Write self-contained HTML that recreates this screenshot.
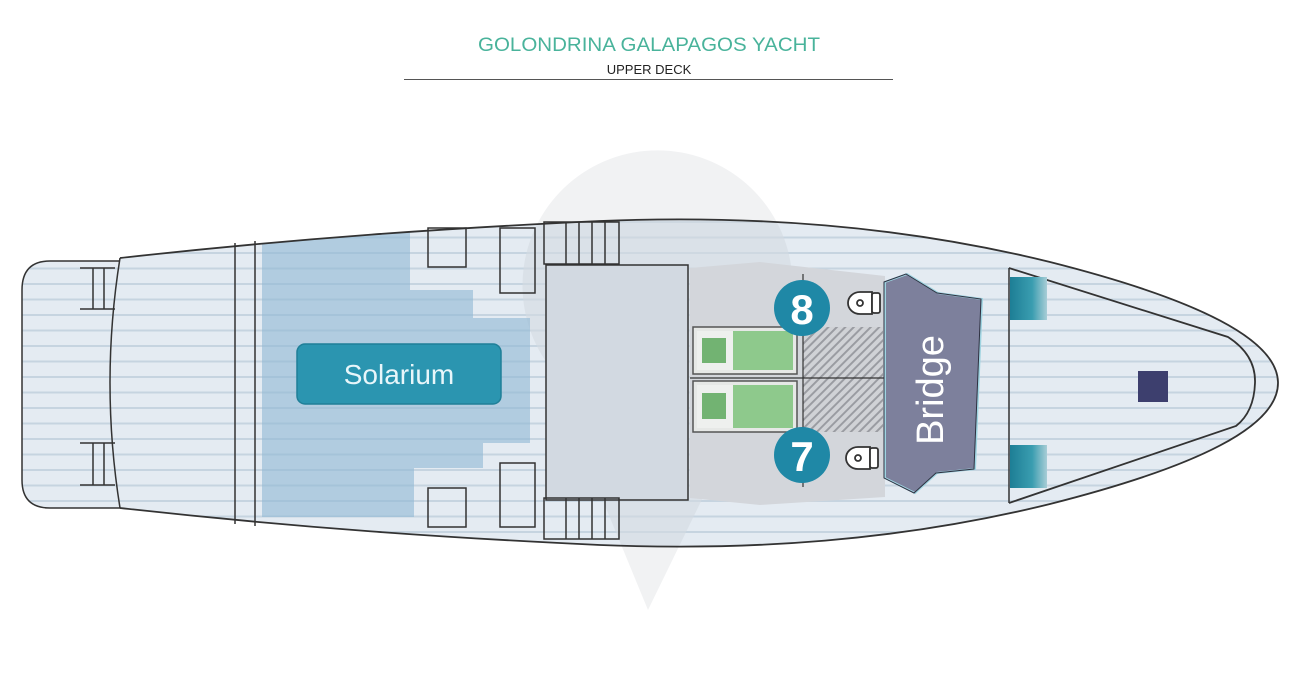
<!DOCTYPE html>
<html><head><meta charset="utf-8"><style>
html,body{margin:0;padding:0;background:#fff;}
svg{display:block;font-family:"Liberation Sans",sans-serif;}
</style></head><body>
<svg width="1300" height="684" viewBox="0 0 1300 684" xmlns="http://www.w3.org/2000/svg">
<defs>
<pattern id="stripes" width="10" height="15.5" patternUnits="userSpaceOnUse" y="4">
<rect width="10" height="15.5" fill="#e4ebf2"/>
<rect y="0" width="10" height="2" fill="#c6d4e0"/>
</pattern>
<pattern id="hatch" width="6" height="6" patternUnits="userSpaceOnUse" patternTransform="rotate(45)">
<rect width="6" height="6" fill="#d0d2d6"/>
<rect width="2" height="6" fill="#9a9ca2"/>
</pattern>
<linearGradient id="teal" x1="0" x2="1">
<stop offset="0" stop-color="#1d7e95"/><stop offset="0.6" stop-color="#3a9db0"/><stop offset="1" stop-color="#a8cdd6"/>
</linearGradient>
<clipPath id="hullclip"><path d="M120,258 C300,238 450,228 600,221 C750,215 900,225 1050,262 C1200,300 1278,340 1278,383 C1278,426 1200,466 1050,504 C900,541 750,551 600,545 C450,538 300,528 120,508 Z"/></clipPath>
</defs>
<text x="649" y="51" text-anchor="middle" font-size="19" fill="#49b39b" textLength="342" lengthAdjust="spacingAndGlyphs">GOLONDRINA GALAPAGOS YACHT</text>
<text x="649" y="74" text-anchor="middle" font-size="13" fill="#222">UPPER DECK</text>
<line x1="404" y1="79.5" x2="893" y2="79.5" stroke="#555" stroke-width="1"/>

<!-- watermark outside -->
<path d="M648,610 L545,360 A135,135 0 1 1 770,360 Z" fill="#f1f2f3"/>

<!-- stern platform -->
<path d="M122,261 L50,261 Q22,261 22,290 L22,480 Q22,508 50,508 L122,508 Z" fill="url(#stripes)" stroke="#333" stroke-width="1.5"/>
<!-- hull -->
<path d="M120,258 C300,238 450,228 600,221 C750,215 900,225 1050,262 C1200,300 1278,340 1278,383 C1278,426 1200,466 1050,504 C900,541 750,551 600,545 C450,538 300,528 120,508 Z" fill="url(#stripes)"/>
<g clip-path="url(#hullclip)">
<path d="M648,610 L545,360 A135,135 0 1 1 770,360 Z" fill="#d4dae1" opacity="0.6"/>
<path d="M262,232 L410,232 L410,290 L473,290 L473,318 L530,318 L530,443 L483,443 L483,468 L414,468 L414,517 L262,517 Z" fill="#8fb7d3" opacity="0.6"/>
<path d="M690,268 L760,262 L885,276 L885,497 L760,505 L690,498 Z" fill="#d3d6db"/>
<rect x="546" y="265" width="142" height="235" fill="#d2d9e1" stroke="#333" stroke-width="1.5"/>
</g>
<path d="M120,258 C300,238 450,228 600,221 C750,215 900,225 1050,262 C1200,300 1278,340 1278,383 C1278,426 1200,466 1050,504 C900,541 750,551 600,545 C450,538 300,528 120,508" fill="none" stroke="#333" stroke-width="1.8"/>
<path d="M120,258 Q100,383 120,508" fill="none" stroke="#333" stroke-width="1.5"/>
<line x1="235" y1="243" x2="235" y2="524" stroke="#333" stroke-width="1.5"/>
<line x1="255" y1="241" x2="255" y2="526" stroke="#333" stroke-width="1.5"/>
<g stroke="#333" stroke-width="1.5" fill="none">
<line x1="80" y1="268" x2="115" y2="268"/><line x1="80" y1="309" x2="115" y2="309"/>
<line x1="93" y1="268" x2="93" y2="309"/><line x1="104" y1="268" x2="104" y2="309"/>
<line x1="80" y1="443" x2="115" y2="443"/><line x1="80" y1="485" x2="115" y2="485"/>
<line x1="93" y1="443" x2="93" y2="485"/><line x1="104" y1="443" x2="104" y2="485"/>
<rect x="428" y="228" width="38" height="39"/>
<rect x="500" y="228" width="35" height="65"/>
<rect x="428" y="488" width="38" height="39"/>
<rect x="500" y="463" width="35" height="64"/>
<rect x="544" y="222" width="75" height="42"/>
<line x1="566" y1="222" x2="566" y2="264"/><line x1="579" y1="222" x2="579" y2="264"/><line x1="592" y1="222" x2="592" y2="264"/><line x1="605" y1="222" x2="605" y2="264"/>
<rect x="544" y="498" width="75" height="41"/>
<line x1="566" y1="498" x2="566" y2="539"/><line x1="579" y1="498" x2="579" y2="539"/><line x1="592" y1="498" x2="592" y2="539"/><line x1="605" y1="498" x2="605" y2="539"/>
<line x1="1009" y1="268" x2="1009" y2="503"/>
<path d="M1009,268 L1228,337 Q1256,355 1255,383 Q1254,412 1236,426 L1009,503" stroke-width="1.8"/>
</g>
<rect x="297" y="344" width="204" height="60" rx="8" fill="#2b95b0" stroke="#1f7f98" stroke-width="1.5"/>
<text x="399" y="384" text-anchor="middle" font-size="28" fill="#e8f6fa">Solarium</text>
<rect x="1010" y="277" width="37" height="43" fill="url(#teal)"/>
<rect x="1010" y="445" width="37" height="43" fill="url(#teal)"/>
<rect x="1138" y="371" width="30" height="31" fill="#3d3f6e"/>
<rect x="803" y="327" width="80" height="105" fill="url(#hatch)"/>
<line x1="803" y1="274" x2="803" y2="487" stroke="#333" stroke-width="1.2"/>
<line x1="690" y1="378" x2="885" y2="378" stroke="#333" stroke-width="1.2"/>
<rect x="693" y="327" width="104" height="47" fill="#e6e8e6" stroke="#555" stroke-width="1.5"/>
<rect x="733" y="331" width="60" height="39" fill="#8ec98c"/>
<rect x="697" y="331" width="36" height="39" fill="#eef0ee"/>
<rect x="702" y="338" width="24" height="25" fill="#72b372"/>
<rect x="693" y="381" width="104" height="51" fill="#e6e8e6" stroke="#555" stroke-width="1.5"/>
<rect x="733" y="385" width="60" height="43" fill="#8ec98c"/>
<rect x="697" y="385" width="36" height="43" fill="#eef0ee"/>
<rect x="702" y="393" width="24" height="26" fill="#72b372"/>
<g fill="#fff" stroke="#333" stroke-width="1.8">
<path d="M872,292 L872,314 L860,314 A12,11 0 0 1 860,292 Z"/><rect x="872" y="293" width="8" height="20" rx="2"/>
<circle cx="860" cy="303" r="3"/>
<path d="M870,447 L870,469 L858,469 A12,11 0 0 1 858,447 Z"/><rect x="870" y="448" width="8" height="20" rx="2"/>
<circle cx="858" cy="458" r="3"/>
</g>
<circle cx="802" cy="308" r="28" fill="#1f88a6"/>
<text x="802" y="324" text-anchor="middle" font-size="42" font-weight="bold" fill="#fff">8</text>
<circle cx="802" cy="455" r="28" fill="#1f88a6"/>
<text x="802" y="471" text-anchor="middle" font-size="42" font-weight="bold" fill="#fff">7</text>
<path d="M885,282 L907,274 L938,293 L982,299 L975,469 L937,473 L915,493 L885,478 Z" fill="#7d809c" stroke="#9ed3e0" stroke-width="2"/>
<path d="M885,282 L907,274 L938,293 L982,299 L975,469 L937,473 L915,493 L885,478 Z" fill="none" stroke="#2e3040" stroke-width="1" transform="translate(-1,0)"/>
<text transform="translate(943,390) rotate(-90)" text-anchor="middle" font-size="38" fill="#fff">Bridge</text>
</svg>
</body></html>
